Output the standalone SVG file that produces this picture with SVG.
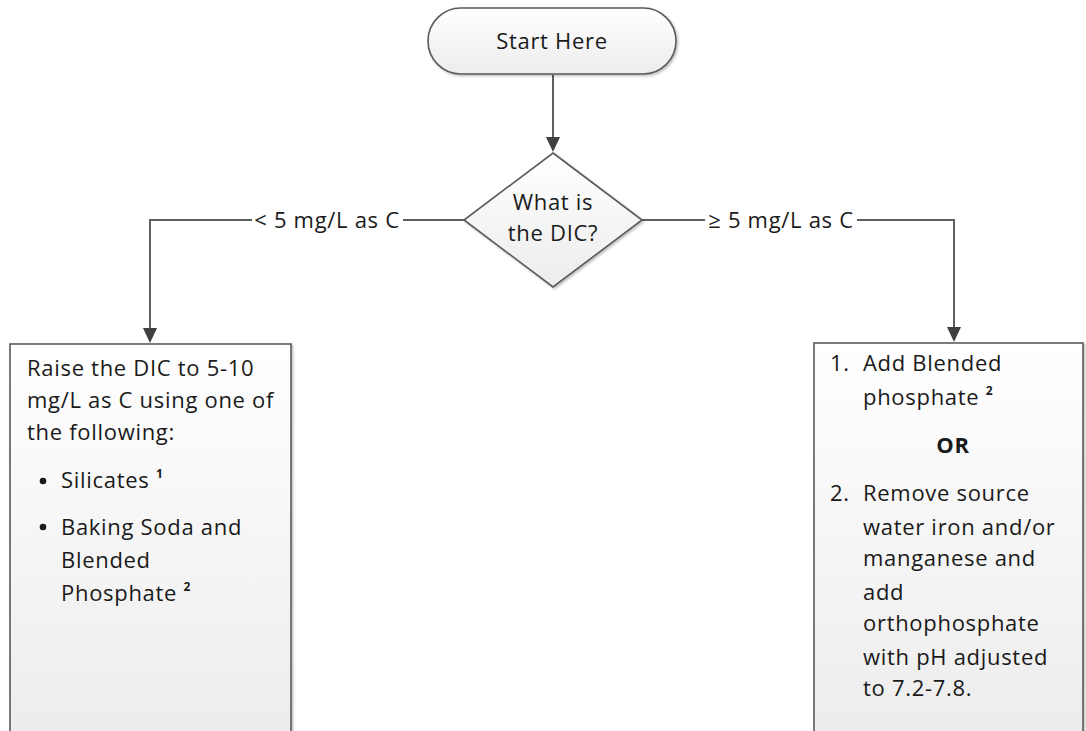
<svg xmlns="http://www.w3.org/2000/svg" width="1086" height="731" viewBox="0 0 1086 731">
<style>
.t{font-family:"Open Sans","Liberation Sans",Arial,sans-serif;font-size:22px;fill:#1a1a1a;letter-spacing:0.7px}
.c{text-anchor:middle}
.sup{font-size:12px;font-weight:bold}
.b{font-weight:bold}
.shape{stroke:#5a5a5a;stroke-width:1.6;filter:url(#sh)}
.conn{fill:none;stroke:#5f5f5f;stroke-width:2}
</style>
<defs>
<linearGradient id="g" x1="0" y1="0" x2="0" y2="1">
<stop offset="0" stop-color="#ffffff"/>
<stop offset="1" stop-color="#ececec"/>
</linearGradient>
<filter id="sh" x="-10%" y="-10%" width="120%" height="120%">
<feDropShadow dx="1.5" dy="1.5" stdDeviation="1.2" flood-color="#000" flood-opacity="0.25"/>
</filter>
</defs>
<rect width="1086" height="731" fill="#ffffff"/>
<g id="connectors">
<line class="conn" x1="553" y1="75" x2="553" y2="140"/>
<path d="M546,137 L560,137 L553,152 z" fill="#404040"/>
<path class="conn" d="M464,220 H403 M252,220 H150 V330"/>
<path d="M143,328 L157,328 L150,343 z" fill="#404040"/>
<path class="conn" d="M642,220 H705 M857,220 H954 V329"/>
<path d="M947,327 L961,327 L954,342 z" fill="#404040"/>
<text class="t" x="327" y="228" text-anchor="middle">&lt; 5 mg/L as C</text>
<text class="t" x="781" y="228" text-anchor="middle">≥ 5 mg/L as C</text>
</g>
<g id="start">
<rect class="shape" x="428" y="8" width="248" height="66" rx="33" fill="url(#g)"/>
<text class="t c" x="552" y="49">Start Here</text>
</g>
<g id="decision">
<polygon class="shape" points="553,153 642,220 553,287 464,220" fill="url(#g)"/>
<text class="t c" x="553" y="210">What is</text>
<text class="t c" x="553" y="241">the DIC?</text>
</g>
<g id="left-box">
<rect class="shape" x="10" y="344" width="281" height="400" fill="url(#g)"/>
<text class="t" x="27" y="376">Raise the DIC to 5-10</text>
<text class="t" x="27" y="408">mg/L as C using one of</text>
<text class="t" x="27" y="440">the following:</text>
<circle cx="43" cy="481" r="3.3" fill="#1a1a1a"/>
<text class="t" x="61" y="488">Silicates <tspan class="sup" dy="-10">1</tspan></text>
<circle cx="43" cy="527" r="3.3" fill="#1a1a1a"/>
<text class="t" x="61" y="535">Baking Soda and</text>
<text class="t" x="61" y="568">Blended</text>
<text class="t" x="61" y="601">Phosphate <tspan class="sup" dy="-10">2</tspan></text>
</g>
<g id="right-box">
<rect class="shape" x="814" y="343" width="269" height="400" fill="url(#g)"/>
<text class="t" x="830" y="371">1.</text>
<text class="t" x="863" y="371">Add Blended</text>
<text class="t" x="863" y="405">phosphate <tspan class="sup" dy="-10">2</tspan></text>
<text class="t c b" x="953" y="453">OR</text>
<text class="t" x="830" y="501">2.</text>
<text class="t" x="863" y="501">Remove source</text>
<text class="t" x="863" y="535">water iron and/or</text>
<text class="t" x="863" y="566">manganese and</text>
<text class="t" x="863" y="600">add</text>
<text class="t" x="863" y="631">orthophosphate</text>
<text class="t" x="863" y="665">with pH adjusted</text>
<text class="t" x="863" y="696">to 7.2-7.8.</text>
</g>
</svg>
